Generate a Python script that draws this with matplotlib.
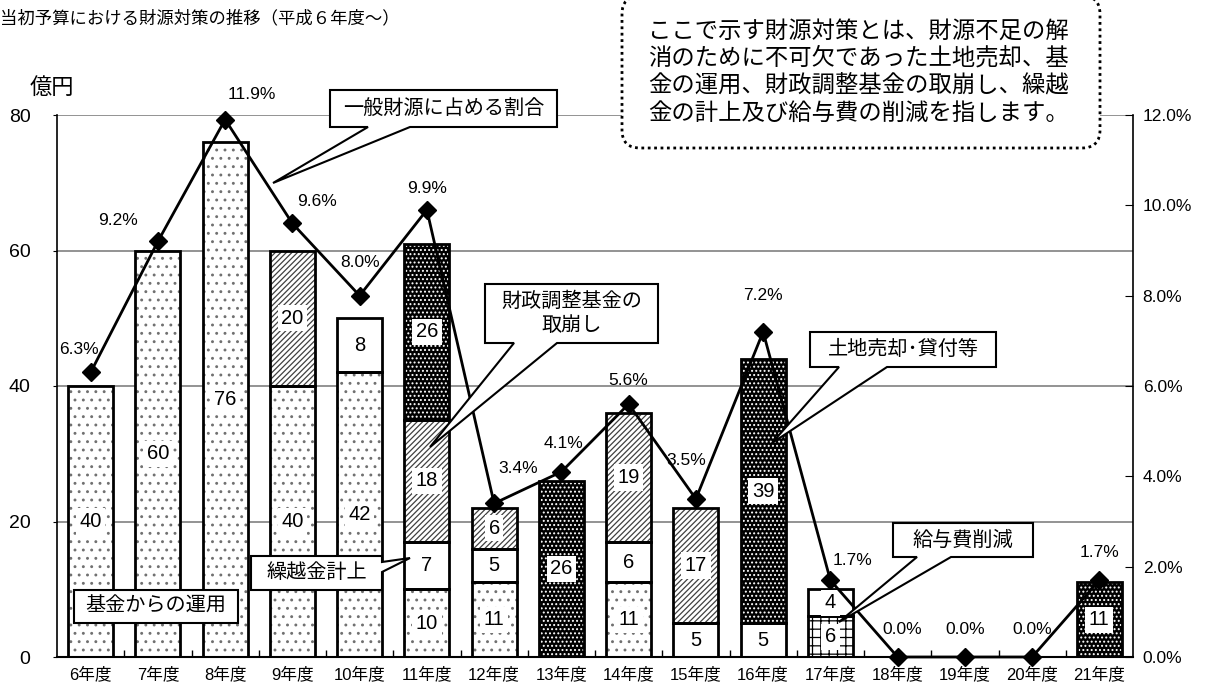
import numpy as np
import matplotlib
matplotlib.use('Agg')
import matplotlib.pyplot as plt
from matplotlib import font_manager
from matplotlib.patches import Polygon, FancyBboxPatch
from matplotlib.transforms import Affine2D
from matplotlib.ticker import FuncFormatter, MultipleLocator

# fonts: narrow latin for digits, CJK fallback for kanji
names = {f.name for f in font_manager.fontManager.ttflist}
narrow = 'Liberation Sans Narrow' if 'Liberation Sans Narrow' in names else 'Liberation Sans'
JP = 'Noto Sans CJK JP'
plt.rcParams['font.family'] = [narrow, JP]
plt.rcParams['hatch.linewidth'] = 0.9

years = ['6年度', '7年度', '8年度', '9年度', '10年度', '11年度', '12年度', '13年度',
         '14年度', '15年度', '16年度', '17年度', '18年度', '19年度', '20年度', '21年度']
salary = [0, 0, 0, 0, 0, 0, 0, 0, 0, 0, 0, 6, 0, 0, 0, 0]
fund = [40, 60, 76, 40, 42, 10, 11, 0, 11, 0, 0, 0, 0, 0, 0, 0]
carry = [0, 0, 0, 0, 8, 7, 5, 0, 6, 5, 5, 4, 0, 0, 0, 0]
adjust = [0, 0, 0, 20, 0, 18, 6, 0, 19, 17, 0, 0, 0, 0, 0, 0]
land = [0, 0, 0, 0, 0, 26, 0, 26, 0, 0, 39, 0, 0, 0, 0, 11]
ratio = [6.3, 9.2, 11.9, 9.6, 8.0, 9.9, 3.4, 4.1, 5.6, 3.5, 7.2, 1.7, 0.0, 0.0, 0.0, 1.7]

# where each percentage label sits relative to its point (pixels)
ratio_offsets = [(-12, 23), (-40, 21), (27, 25), (25, 22), (0, 33), (0, 21), (24, 35), (2, 28),
                 (0, 24), (-10, 38), (0, 36), (22, 20), (5, 28), (0, 28), (0, 28), (0, 28)]

W, H = 1209, 684
fig = plt.figure(figsize=(W / 100, H / 100), dpi=100)
ax = fig.add_axes([57 / W, 27 / H, (1133 - 57) / W, (657 - 115) / H])
tpx = Affine2D().scale(1 / W, -1 / H).translate(0, 1) + fig.transFigure

x = np.arange(len(years))
bw = 0.67

# segment styles: (values, face, hatch colour, hatch)
segments = [
    (salary, 'white', 'black', '++'),
    (fund, 'white', '#707070', '..'),
    (carry, 'white', 'black', None),
    (adjust, 'white', '#404040', '//////'),
    (land, 'black', 'white', '....'),
]

bottom = np.zeros(len(x))
for vals, fc, hc, hatch in segments:
    vals = np.array(vals, dtype=float)
    m = vals > 0
    ax.bar(x[m], vals[m], bw, bottom=bottom[m], color=fc, edgecolor=hc,
           hatch=hatch, linewidth=0, zorder=2)
    ax.bar(x[m], vals[m], bw, bottom=bottom[m], fill=False, edgecolor='black',
           linewidth=2, zorder=3)
    for xi, v, b in zip(x[m], vals[m], bottom[m]):
        ax.text(xi, b + v / 2, f'{v:g}', ha='center', va='center', fontsize=14.5, zorder=4,
                bbox=dict(boxstyle='square,pad=0.18', fc='white', ec='none'))
    bottom += vals

ax.set_xlim(-0.5, len(x) - 0.5)
ax.set_ylim(0, 80)
ax.set_yticks([0, 20, 40, 60, 80])
ax.yaxis.grid(True, color='#808080', linewidth=1.2)
ax.set_axisbelow(True)
ax.set_xticks(x)
ax.set_xticklabels(years, fontsize=12)
ax.set_xticks(np.arange(0.5, len(x) - 1, 1), minor=True)
ax.tick_params(axis='x', which='major', length=0, pad=7)
ax.tick_params(axis='x', which='minor', direction='in', length=5, width=1)
ax.tick_params(axis='y', labelsize=14, length=3, pad=16)
ax.spines['top'].set_visible(False)
ax.spines['right'].set_visible(False)
ax.spines['left'].set_linewidth(1.2)
ax.spines['bottom'].set_linewidth(1.5)

ax2 = ax.twinx()
ax2.set_ylim(0, 0.12)
ax2.yaxis.set_major_locator(MultipleLocator(0.02))
ax2.yaxis.set_major_formatter(FuncFormatter(lambda v, p: f'{v * 100:.1f}%'))
ax2.tick_params(axis='y', direction='in', length=6, labelsize=12.5, pad=7)
ax2.spines['top'].set_visible(False)
ax2.spines['left'].set_visible(False)
ax2.spines['bottom'].set_visible(False)
ax2.spines['right'].set_linewidth(1.2)

r = np.array(ratio) / 100
ax2.plot(x, r, color='black', linewidth=2, marker='D', markersize=9, zorder=5, clip_on=False)
for xi, v, off in zip(x, ratio, ratio_offsets):
    ax2.annotate(f'{v:.1f}%', (xi, v / 100), xytext=off, textcoords='offset pixels',
                 ha='center', va='center', fontsize=12.5)

# title and unit
fig.text(0, 18, '当初予算における財源対策の推移（平成６年度～）', transform=tpx,
         fontsize=12.5, family=JP, va='center', ha='left')
fig.text(52, 87, '億円', transform=tpx, fontsize=16, family=JP, va='center', ha='center')


def callout(text, box, base=None, tip=None, side='bottom', fs=14.5):
    x0, y0, x1, y1 = box
    if base is None:
        pts = [(x0, y0), (x1, y0), (x1, y1), (x0, y1)]
    elif side == 'bottom':
        a, b = base
        pts = [(x0, y0), (x1, y0), (x1, y1), (b, y1), tip, (a, y1), (x0, y1)]
    else:
        a, b = base
        pts = [(x0, y0), (x1, y0), (x1, a), tip, (x1, b), (x1, y1), (x0, y1)]
    fig.add_artist(Polygon(pts, closed=True, transform=tpx, fc='white', ec='black',
                           lw=1.5, joinstyle='miter', zorder=10))
    fig.text((x0 + x1) / 2, (y0 + y1) / 2, text, transform=tpx, ha='center', va='center',
             fontsize=fs, family=JP, zorder=11, linespacing=1.15)


callout('一般財源に占める割合', (330, 90, 557, 127), (368, 410), (273, 183))
callout('財政調整基金の\n取崩し', (485, 284, 658, 343), (514, 557), (430, 447))
callout('土地売却･貸付等', (810, 332, 996, 367), (839, 887), (772, 443))
callout('給与費削減', (893, 523, 1033, 557), (917, 951), (839, 622))
callout('繰越金計上', (251, 556, 382, 590), (562, 572), (410, 558), side='right')
callout('基金からの運用', (74, 590, 238, 623))

note = FancyBboxPatch((622, -4), 478, 152, boxstyle='round,pad=0,rounding_size=18',
                      transform=tpx, fc='white', ec='black', lw=2,
                      linestyle=(0, (1, 1.3)), zorder=10)
fig.add_artist(note)
fig.text(648, 72, 'ここで示す財源対策とは、財源不足の解\n消のために不可欠であった土地売却、基\n'
         '金の運用、財政調整基金の取崩し、繰越\n金の計上及び給与費の削減を指します。',
         transform=tpx, ha='left', va='center', fontsize=16.8, family=JP, zorder=11,
         linespacing=1.25)

fig.savefig('out.png', dpi=100)
